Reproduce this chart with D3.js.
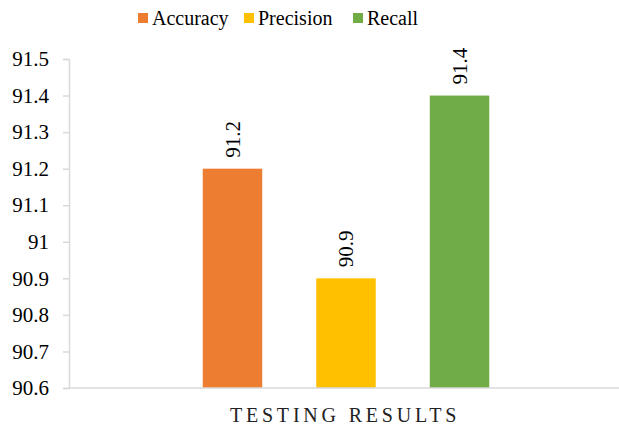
<!DOCTYPE html>
<html>
<head>
<meta charset="utf-8">
<script src="https://cdn.jsdelivr.net/npm/d3@7"></script>
<style>
  html, body { margin: 0; padding: 0; background: #fff; }
  svg { display: block; }
</style>
</head>
<body>
<svg id="chart" width="619" height="430"></svg>
<script>
// Chart data
const categories = ["TESTING RESULTS"];
const seriesNames = ["Accuracy", "Precision", "Recall"];
const seriesColors = ["#ED7D31", "#FFC000", "#70AD47"];
const accuracyValues = [91.2];
const precisionValues = [90.9];
const recallValues = [91.4];
const yTicks = [90.6, 90.7, 90.8, 90.9, 91, 91.1, 91.2, 91.3, 91.4, 91.5];

const seriesValues = [accuracyValues, precisionValues, recallValues];
const FONT = "'Liberation Serif', 'Times New Roman', serif";

const svg = d3.select("#chart").style("font-family", FONT);
const margin = { left: 69, right: -4, top: 59, bottom: 42 };
const W = 619, H = 430;
const plotBottom = H - margin.bottom;

const y = d3.scaleLinear().domain([90.6, 91.5]).range([plotBottom, margin.top]);
const x0 = d3.scaleBand().domain(categories).range([margin.left, W - margin.right]).padding(0);
const x1 = d3.scaleBand().domain(seriesNames).range([0, x0.bandwidth()])
  .paddingInner(0.476).paddingOuter(1.178);
const color = d3.scaleOrdinal().domain(seriesNames).range(seriesColors);

// Y axis
const yAxis = svg.append("g")
  .attr("transform", `translate(${margin.left},0)`)
  .call(d3.axisLeft(y).tickValues(yTicks).tickSize(6).tickPadding(14)
    .tickFormat(d => String(+d.toFixed(1))));
yAxis.attr("font-family", null).style("font-family", FONT);
yAxis.select(".domain").attr("stroke", "#d9d9d9").attr("stroke-width", 1.5);
yAxis.selectAll(".tick line").attr("stroke", "#d9d9d9").attr("stroke-width", 1.5);
yAxis.selectAll(".tick text")
  .style("font-family", FONT).style("font-size", "21px")
  .attr("fill", "#000");

// Bars
const groups = svg.append("g").selectAll("g")
  .data(categories)
  .join("g")
  .attr("transform", d => `translate(${x0(d)},0)`);

const barData = (ci) => seriesNames.map((s, si) => ({ s, v: seriesValues[si][ci] }));

groups.selectAll("rect")
  .data(c => barData(categories.indexOf(c)))
  .join("rect")
  .attr("x", d => x1(d.s))
  .attr("width", x1.bandwidth())
  .attr("y", d => y(d.v))
  .attr("height", d => plotBottom - y(d.v))
  .attr("fill", d => color(d.s));

// Value labels, rotated
groups.selectAll("text.val")
  .data(c => barData(categories.indexOf(c)))
  .join("text")
  .attr("class", "val")
  .attr("transform", d => `translate(${x1(d.s) + x1.bandwidth() / 2},${y(d.v) - 11}) rotate(-90)`)
  .attr("dy", "0.35em")
  .attr("text-anchor", "start")
  .style("font-family", FONT).style("font-size", "21px")
  .attr("fill", "#000")
  .text(d => d.v.toFixed(1));

// X axis line
svg.append("line")
  .attr("x1", margin.left).attr("x2", W)
  .attr("y1", plotBottom).attr("y2", plotBottom)
  .attr("stroke", "#d9d9d9").attr("stroke-width", 1.5);

// Category label
svg.selectAll("text.cat")
  .data(categories)
  .join("text")
  .attr("class", "cat")
  .attr("x", d => x0(d) + x0.bandwidth() / 2 - 1)
  .attr("y", 422)
  .attr("text-anchor", "middle")
  .style("font-family", FONT).style("font-size", "20px")
  .style("letter-spacing", "3.8px")
  .attr("fill", "#222")
  .text(d => d);

// Legend
const legendX = [138, 244, 353];
const legend = svg.append("g").selectAll("g")
  .data(seriesNames)
  .join("g")
  .attr("transform", (d, i) => `translate(${legendX[i]},0)`);
legend.append("rect")
  .attr("x", 0).attr("y", 13).attr("width", 10).attr("height", 10)
  .attr("fill", d => color(d));
legend.append("text")
  .attr("x", 14).attr("y", 25)
  .style("font-family", FONT).style("font-size", "20px")
  .attr("fill", "#000")
  .text(d => d);
</script>
</body>
</html>
